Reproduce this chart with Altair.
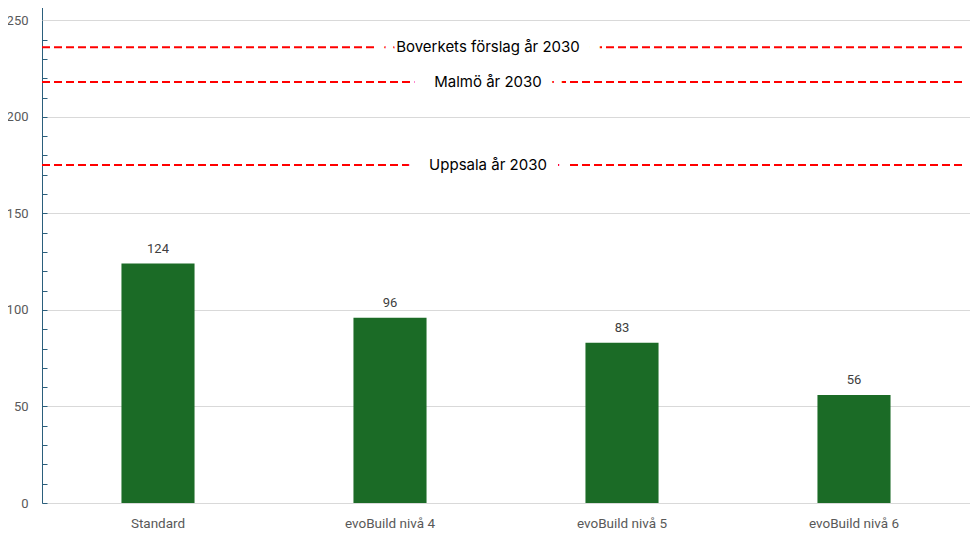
import altair as alt
import pandas as pd

categories = ["Standard", "evoBuild nivå 4", "evoBuild nivå 5", "evoBuild nivå 6"]
values = [124, 96, 83, 56]

ref_names = ["Boverkets förslag år 2030", "Malmö år 2030", "Uppsala år 2030"]
ref_values = [236, 218, 175]

W, H = 928, 502
AXIS_BLUE = "#2b5f7c"
GRID = "#d9d9d9"

bars_df = pd.DataFrame({"cat": categories, "val": values})
ref_df = pd.DataFrame({"name": ref_names, "val": ref_values})

yscale = alt.Scale(domain=[0, 260], nice=False, zero=True)
xenc = alt.X("cat:N", sort=categories, title=None,
             scale=alt.Scale(paddingInner=0.685, paddingOuter=0.3425),
             axis=alt.Axis(labelAngle=0, ticks=False, domainColor=GRID, labelColor="#595959",
                           labelFontSize=13.5, labelFont="Roboto", labelPadding=13))

bars = alt.Chart(bars_df).mark_bar(color="#1b6b26").encode(
    x=xenc,
    y=alt.Y("val:Q", scale=yscale, title=None,
            axis=alt.Axis(values=[0, 50, 100, 150, 200, 250], ticks=False, domainColor=AXIS_BLUE,
                          labelColor="#595959", labelFontSize=13, labelFont="Roboto",
                          labelPadding=14, gridColor=GRID, grid=True)),
)

labels = alt.Chart(bars_df).mark_text(baseline="bottom", dy=-8, fontSize=13, color="#404040",
                                      font="Roboto").encode(
    x=alt.X("cat:N", sort=categories),
    y=alt.Y("val:Q", scale=yscale, axis=None),
    text="val:Q",
)

rules = alt.Chart(ref_df).mark_rule(color="#ff0000", strokeWidth=2, strokeDash=[8, 4]).encode(
    x=alt.value(0), x2=alt.value(W - 5),
    y=alt.Y("val:Q", scale=yscale,
            axis=alt.Axis(orient="right", offset=-W, values=list(range(0, 261, 10)), tickSize=5,
                          tickColor=AXIS_BLUE, labels=False, domain=False, grid=False, title=None)),
)

halo = alt.Chart(ref_df).mark_text(fontSize=15, font="Inter", color="white", stroke="white",
                                   strokeWidth=42, strokeJoin="round").encode(
    x=alt.value(446),
    y=alt.Y("val:Q", scale=yscale,
            axis=alt.Axis(orient="left", values=[250], grid=True, gridColor=GRID, zindex=1,
                          labels=False, ticks=False, domain=False, title=None)),
    text="name:N",
)

reftext = alt.Chart(ref_df).mark_text(fontSize=15, font="Inter", color="#000000").encode(
    x=alt.value(446),
    y=alt.Y("val:Q", scale=yscale, axis=None),
    text="name:N",
)

chart = alt.layer(bars, labels, rules, halo, reftext).resolve_axis(y="independent").properties(
    width=W, height=H, padding={"top": -8, "left": -2, "right": 0, "bottom": 0}
).configure_view(stroke=None)

chart.save("out.html", embed_options={"renderer": "svg", "actions": False})
